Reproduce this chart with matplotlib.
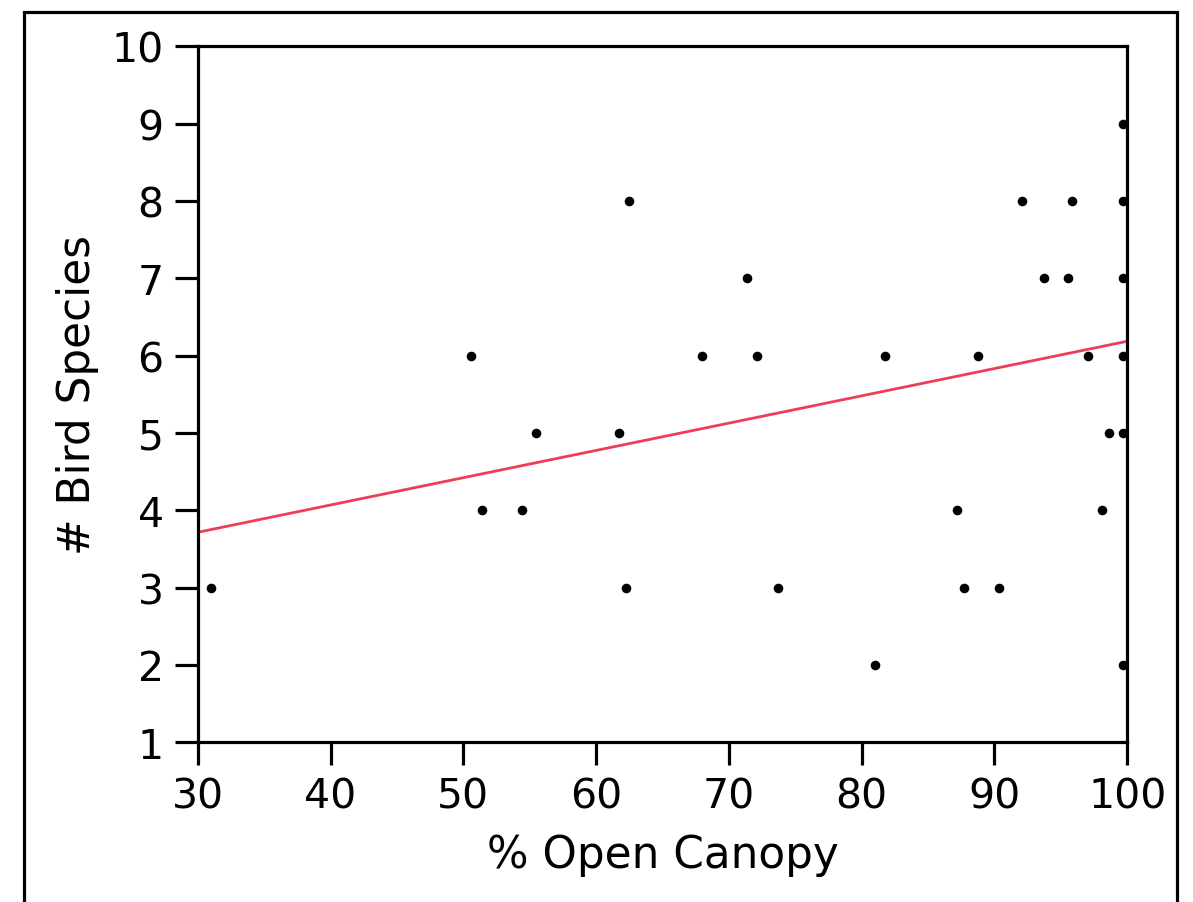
import matplotlib
matplotlib.use("Agg")
import matplotlib.pyplot as plt
from matplotlib.lines import Line2D
import numpy as np

# Data
open_canopy = [31.0, 50.56, 51.41, 54.44, 55.5, 61.72, 62.25, 62.5, 67.97, 71.34,
               72.14, 73.7, 80.98, 81.75, 87.2, 87.73, 88.78, 90.34, 92.07, 93.73,
               95.53, 95.83, 97.04, 98.12, 98.65, 99.65, 99.65, 99.65, 99.65, 99.65,
               99.65]
bird_species = [3, 6, 4, 4, 5, 5, 3, 8, 6, 7,
                6, 3, 2, 6, 4, 3, 6, 3, 8, 7,
                7, 8, 6, 4, 5, 9, 8, 7, 6, 5,
                2]
fit_intercept = 2.657
fit_slope = 0.03529
x_ticks = [30, 40, 50, 60, 70, 80, 90, 100]
y_ticks = [1, 2, 3, 4, 5, 6, 7, 8, 9, 10]

W, H = 1193, 903
fig = plt.figure(figsize=(W / 100, H / 100), dpi=100)
plt.rcParams['font.family'] = ['DejaVu Sans']

left, right = 197.7 / W, 1127.3 / W
top, bottom = 1 - 47.3 / H, 1 - 743.3 / H
ax = fig.add_axes([left, bottom, right - left, top - bottom])

lw = 2.3
ax.scatter(open_canopy, bird_species, s=48, color='black', zorder=3,
           clip_on=False, linewidths=0)
xl = np.array([30, 100])
ax.plot(xl, fit_intercept + fit_slope * xl, color='#EE3D55', lw=2.0, zorder=2)

ax.set_xlim(30, 100)
ax.set_ylim(1, 10)
ax.set_xticks(x_ticks)
ax.set_yticks(y_ticks)
ax.tick_params(direction='out', length=16.5, width=lw, labelsize=29.5,
               color='black', pad=8)
for sp in ax.spines.values():
    sp.set_linewidth(lw)
    sp.set_color('black')

ax.set_xlabel('% Open Canopy', fontsize=31.5, labelpad=12)
ax.set_ylabel('# Bird Species', fontsize=31.5, labelpad=9)

# Outer frame (left, top, right sides)
fl, fr, ft = 23.5 / W, 1177 / W, 1 - 12.5 / H
fig.add_artist(Line2D([fl, fl, fr, fr], [-0.01, ft, ft, -0.01],
                      transform=fig.transFigure, color='black', lw=lw,
                      solid_joinstyle='miter'))

fig.savefig('out.png', dpi=100)
